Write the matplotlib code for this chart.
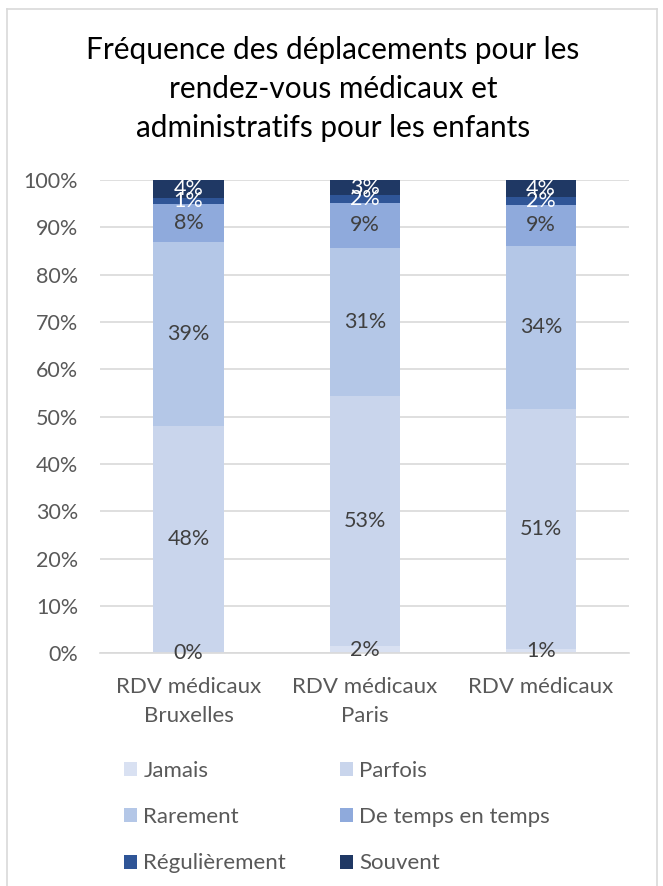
import matplotlib
matplotlib.use("Agg")
import matplotlib.pyplot as plt
from matplotlib.patches import Patch
from matplotlib.lines import Line2D
import numpy as np

plt.rcParams['font.family'] = ['Lato', 'DejaVu Sans']

categories = ["RDV médicaux\nBruxelles", "RDV médicaux\nParis", "RDV médicaux"]
series_names = ["Jamais", "Parfois", "Rarement", "De temps en temps",
                "Régulièrement", "Souvent"]
jamais = [0.3, 1.6, 0.9]
parfois = [47.7, 52.8, 50.8]
rarement = [38.8, 31.3, 34.4]
de_temps = [8.1, 9.4, 8.7]
regulierement = [1.3, 1.7, 1.6]
souvent = [3.8, 3.2, 3.6]
series_values = [jamais, parfois, rarement, de_temps, regulierement, souvent]

colors = ["#D9E1F2", "#C9D5EC", "#B4C7E7", "#8FAADC", "#2F5597", "#1F3864"]
label_colors = ["#404040", "#404040", "#404040", "#404040", "white", "white"]
ytick_labels = [f"{v}%" for v in range(0, 101, 10)]

W, H = 663, 886
fig = plt.figure(figsize=(W / 100, H / 100), dpi=100)
ax = fig.add_axes([100.5 / W, 1 - 653.3 / H, 528.5 / W, 473.3 / H])

x = np.arange(len(categories))
bottom = np.zeros(len(categories))
handles = []
for name, vals, col, lcol in zip(series_names, series_values, colors, label_colors):
    vals = np.array(vals)
    bars = ax.bar(x, vals, width=0.4, bottom=bottom, color=col, zorder=3,
                  label=name)
    ax.bar_label(bars, labels=[f"{v:.0f}%" for v in vals], label_type="center",
                 color=lcol, fontsize=15.5, zorder=4)
    bottom += vals
    handles.append(Patch(facecolor=col, edgecolor="none", label=name))

ax.set_xlim(-0.5, len(categories) - 0.5)
ax.set_ylim(0, 100)
ax.set_yticks(np.arange(0, 101, 10))
ax.set_yticklabels(ytick_labels)
ax.set_xticks(x)
ax.set_xticklabels(categories, linespacing=1.55, va="top")
ax.tick_params(axis="both", length=0, labelcolor="#595959")
ax.tick_params(axis="y", pad=16, labelsize=15.5)
ax.tick_params(axis="x", pad=17, labelsize=16)
ax.grid(axis="y", color="#D9D9D9", linewidth=1.2, zorder=0)
for s in ["top", "right", "left"]:
    ax.spines[s].set_visible(False)
ax.spines["bottom"].set_color("#D9D9D9")
ax.spines["bottom"].set_linewidth(1.2)
ax.spines["bottom"].set_zorder(3.5)

fig.text(333 / W, 1 - 89 / H,
         "Fréquence des déplacements pour les\nrendez-vous médicaux et\nadministratifs pour les enfants",
         ha="center", va="center", fontsize=21.4, color="black", linespacing=1.47)

order = [0, 2, 4, 1, 3, 5]
fig.legend([handles[i] for i in order], [series_names[i] for i in order],
           ncol=2, loc="upper left", bbox_to_anchor=(104 / W, 1 - 741 / H),
           frameon=False, fontsize=16, labelcolor="#595959",
           handlelength=0.6, handleheight=0.6, handletextpad=0.27,
           labelspacing=1.18, columnspacing=2.43)

# outer chart frame
frame_kw = dict(color="#D9D9D9", linewidth=1.2, transform=fig.transFigure)
fig.add_artist(Line2D([7 / W, 7 / W], [1 - 9 / H, 0], **frame_kw))
fig.add_artist(Line2D([657 / W, 657 / W], [1 - 9 / H, 0], **frame_kw))
fig.add_artist(Line2D([7 / W, 657 / W], [1 - 9 / H, 1 - 9 / H], **frame_kw))

fig.savefig("out.png", dpi=100)
